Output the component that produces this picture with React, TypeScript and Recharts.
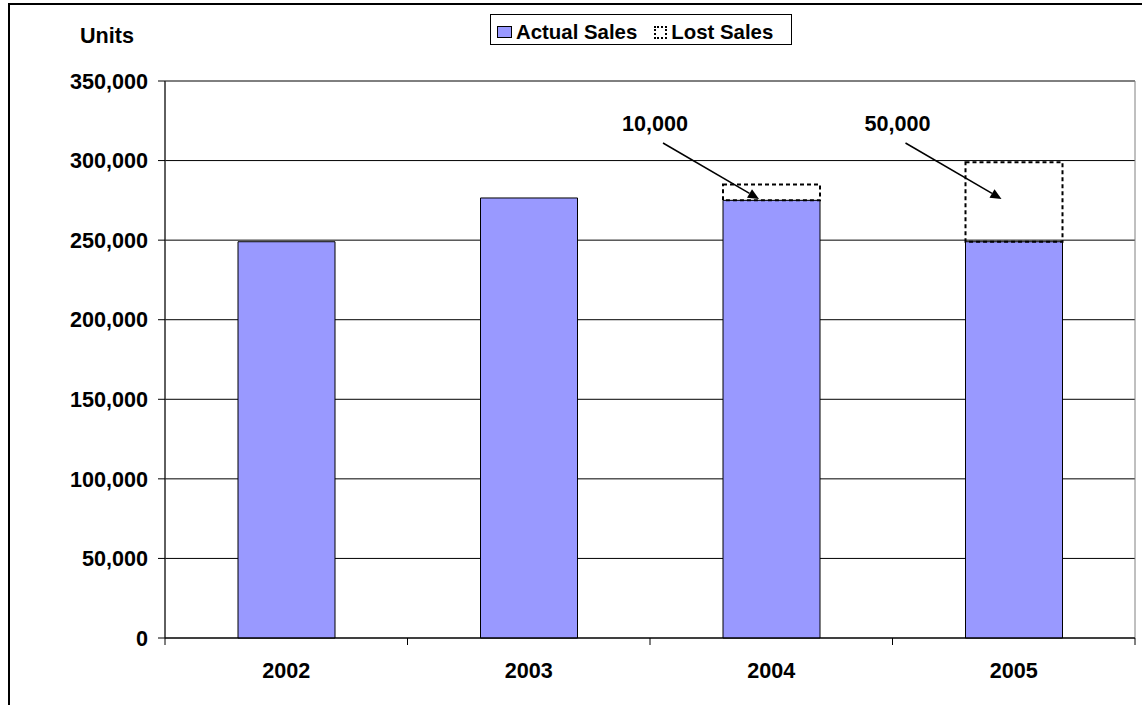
import { BarChart, Bar, XAxis, YAxis, CartesianGrid, Legend, LabelList, ReferenceArea } from 'recharts';

const YEARS = ['2002', '2003', '2004', '2005'];
const ACTUAL_SALES = [249000, 276500, 275000, 249000];
const LOST_SALES = [null, null, 10000, 50000];
const Y_TICKS = [0, 50000, 100000, 150000, 200000, 250000, 300000, 350000];

const FONT = "Arial, 'Liberation Sans', Helvetica, sans-serif";
const FONT_SIZE = 21.6;
const PLOT_TOP = 81;

const chartData = YEARS.map((year, i) => ({
  year,
  actual: ACTUAL_SALES[i],
  lost: LOST_SALES[i],
}));

const fmt = (v: number) => v.toLocaleString('en-US');

// category labels + tick marks on the category boundaries (Excel style)
function YearTick(props: any) {
  const { x, y, payload, index } = props;
  const half = payload?.offset ?? 121.25;
  const isLast = index === YEARS.length - 1 || payload?.value === YEARS[YEARS.length - 1];
  return (
    <g>
      <line x1={x - half} x2={x - half} y1={y} y2={y + 7} stroke="#000" />
      {isLast && <line x1={x + half} x2={x + half} y1={y} y2={y + 7} stroke="#000" />}
      <text x={x} y={y + 40} textAnchor="middle" fontSize={FONT_SIZE} fontWeight="bold" fontFamily={FONT} fill="#000">
        {payload.value}
      </text>
    </g>
  );
}

// "10,000" / "50,000" text with an arrow pointing into the lost-sales box
function LostCallout(props: any) {
  const { value } = props;
  const vb = props.viewBox || {};
  const x = vb.x ?? props.x;
  if (value == null || x == null) return null;
  const sx = x - 60;
  const sy = PLOT_TOP + 62;
  const tx = x + 36;
  const ty = PLOT_TOP + 118;
  const dx = tx - sx;
  const dy = ty - sy;
  const len = Math.sqrt(dx * dx + dy * dy);
  const ux = dx / len;
  const uy = dy / len;
  const head = 11;
  const w = 5;
  const bx = tx - ux * head;
  const by = ty - uy * head;
  return (
    <g>
      <text x={x - 68} y={PLOT_TOP + 50} textAnchor="middle" fontSize={FONT_SIZE} fontWeight="bold" fontFamily={FONT} fill="#000">
        {fmt(value)}
      </text>
      <line x1={sx} y1={sy} x2={bx} y2={by} stroke="#000" strokeWidth={1.5} />
      <polygon
        points={`${tx},${ty} ${bx - uy * w},${by + ux * w} ${bx + uy * w},${by - ux * w}`}
        fill="#000"
      />
    </g>
  );
}

function SalesLegend() {
  return (
    <div
      style={{
        boxSizing: 'border-box',
        width: 302,
        height: 31,
        border: '1px solid #000',
        background: '#fff',
        display: 'flex',
        alignItems: 'center',
        paddingLeft: 6,
        paddingTop: 5,
        fontFamily: FONT,
        fontSize: 20.4,
        fontWeight: 'bold',
        color: '#000',
        lineHeight: 1,
        whiteSpace: 'nowrap',
      }}
    >
      <span style={{ display: 'inline-block', boxSizing: 'border-box', width: 15, height: 12, background: '#9999FF', border: '1px solid #000', marginRight: 4 }} />
      <span>Actual Sales</span>
      <span style={{ display: 'inline-block', boxSizing: 'border-box', width: 13, height: 13, border: '2px dotted #000', marginLeft: 17, marginRight: 4 }} />
      <span>Lost Sales</span>
    </div>
  );
}

export default function App() {
  return (
    <div style={{ position: 'relative', width: 1142, height: 705, overflow: 'hidden', background: '#fff' }}>
      <style>{'body{margin:0}'}</style>
      <div
        style={{
          position: 'absolute',
          left: 8,
          top: 3,
          width: 1200,
          height: 800,
          borderLeft: '2px solid #000',
          borderTop: '2px solid #000',
        }}
      />
      <BarChart width={1142} height={705} data={chartData} margin={{ top: PLOT_TOP, right: 7, bottom: 0, left: 0 }}>
        <CartesianGrid vertical={false} stroke="#000" />
        <ReferenceArea y1={0} y2={350000} fill="none" stroke="#808080" ifOverflow="visible" />
        <XAxis
          dataKey="year"
          height={67}
          tickSize={0}
          tickMargin={0}
          tickLine={false}
          axisLine={{ stroke: '#000' }}
          tick={<YearTick />}
          interval={0}
        />
        <YAxis
          width={165}
          domain={[0, 350000]}
          ticks={Y_TICKS}
          interval={0}
          tickFormatter={fmt}
          tickSize={7}
          tickMargin={10}
          axisLine={{ stroke: '#000' }}
          tickLine={{ stroke: '#000' }}
          tick={{ fontSize: FONT_SIZE, fontWeight: 'bold', fill: '#000', fontFamily: FONT }}
          label={(p: any) => {
            const vb = p.viewBox || { x: 0, y: PLOT_TOP, width: 165 };
            return (
              <text x={vb.x + vb.width - 58} y={vb.y - 38} textAnchor="middle" fontSize={FONT_SIZE} fontWeight="bold" fontFamily={FONT} fill="#000">
                Units
              </text>
            );
          }}
        />
        <Legend
          layout="horizontal"
          verticalAlign="middle"
          align="center"
          wrapperStyle={{ top: 14, left: 490, width: 302, height: 31 }}
          content={<SalesLegend />}
        />
        <Bar dataKey="actual" name="Actual Sales" stackId="sales" fill="#9999FF" stroke="#000" strokeWidth={1} barSize={97} isAnimationActive={false} />
        <Bar
          dataKey="lost"
          name="Lost Sales"
          stackId="sales"
          fill="none"
          stroke="#000"
          strokeWidth={2}
          strokeDasharray="4 3"
          barSize={97}
          isAnimationActive={false}
        >
          <LabelList dataKey="lost" content={<LostCallout />} />
        </Bar>
      </BarChart>
    </div>
  );
}
